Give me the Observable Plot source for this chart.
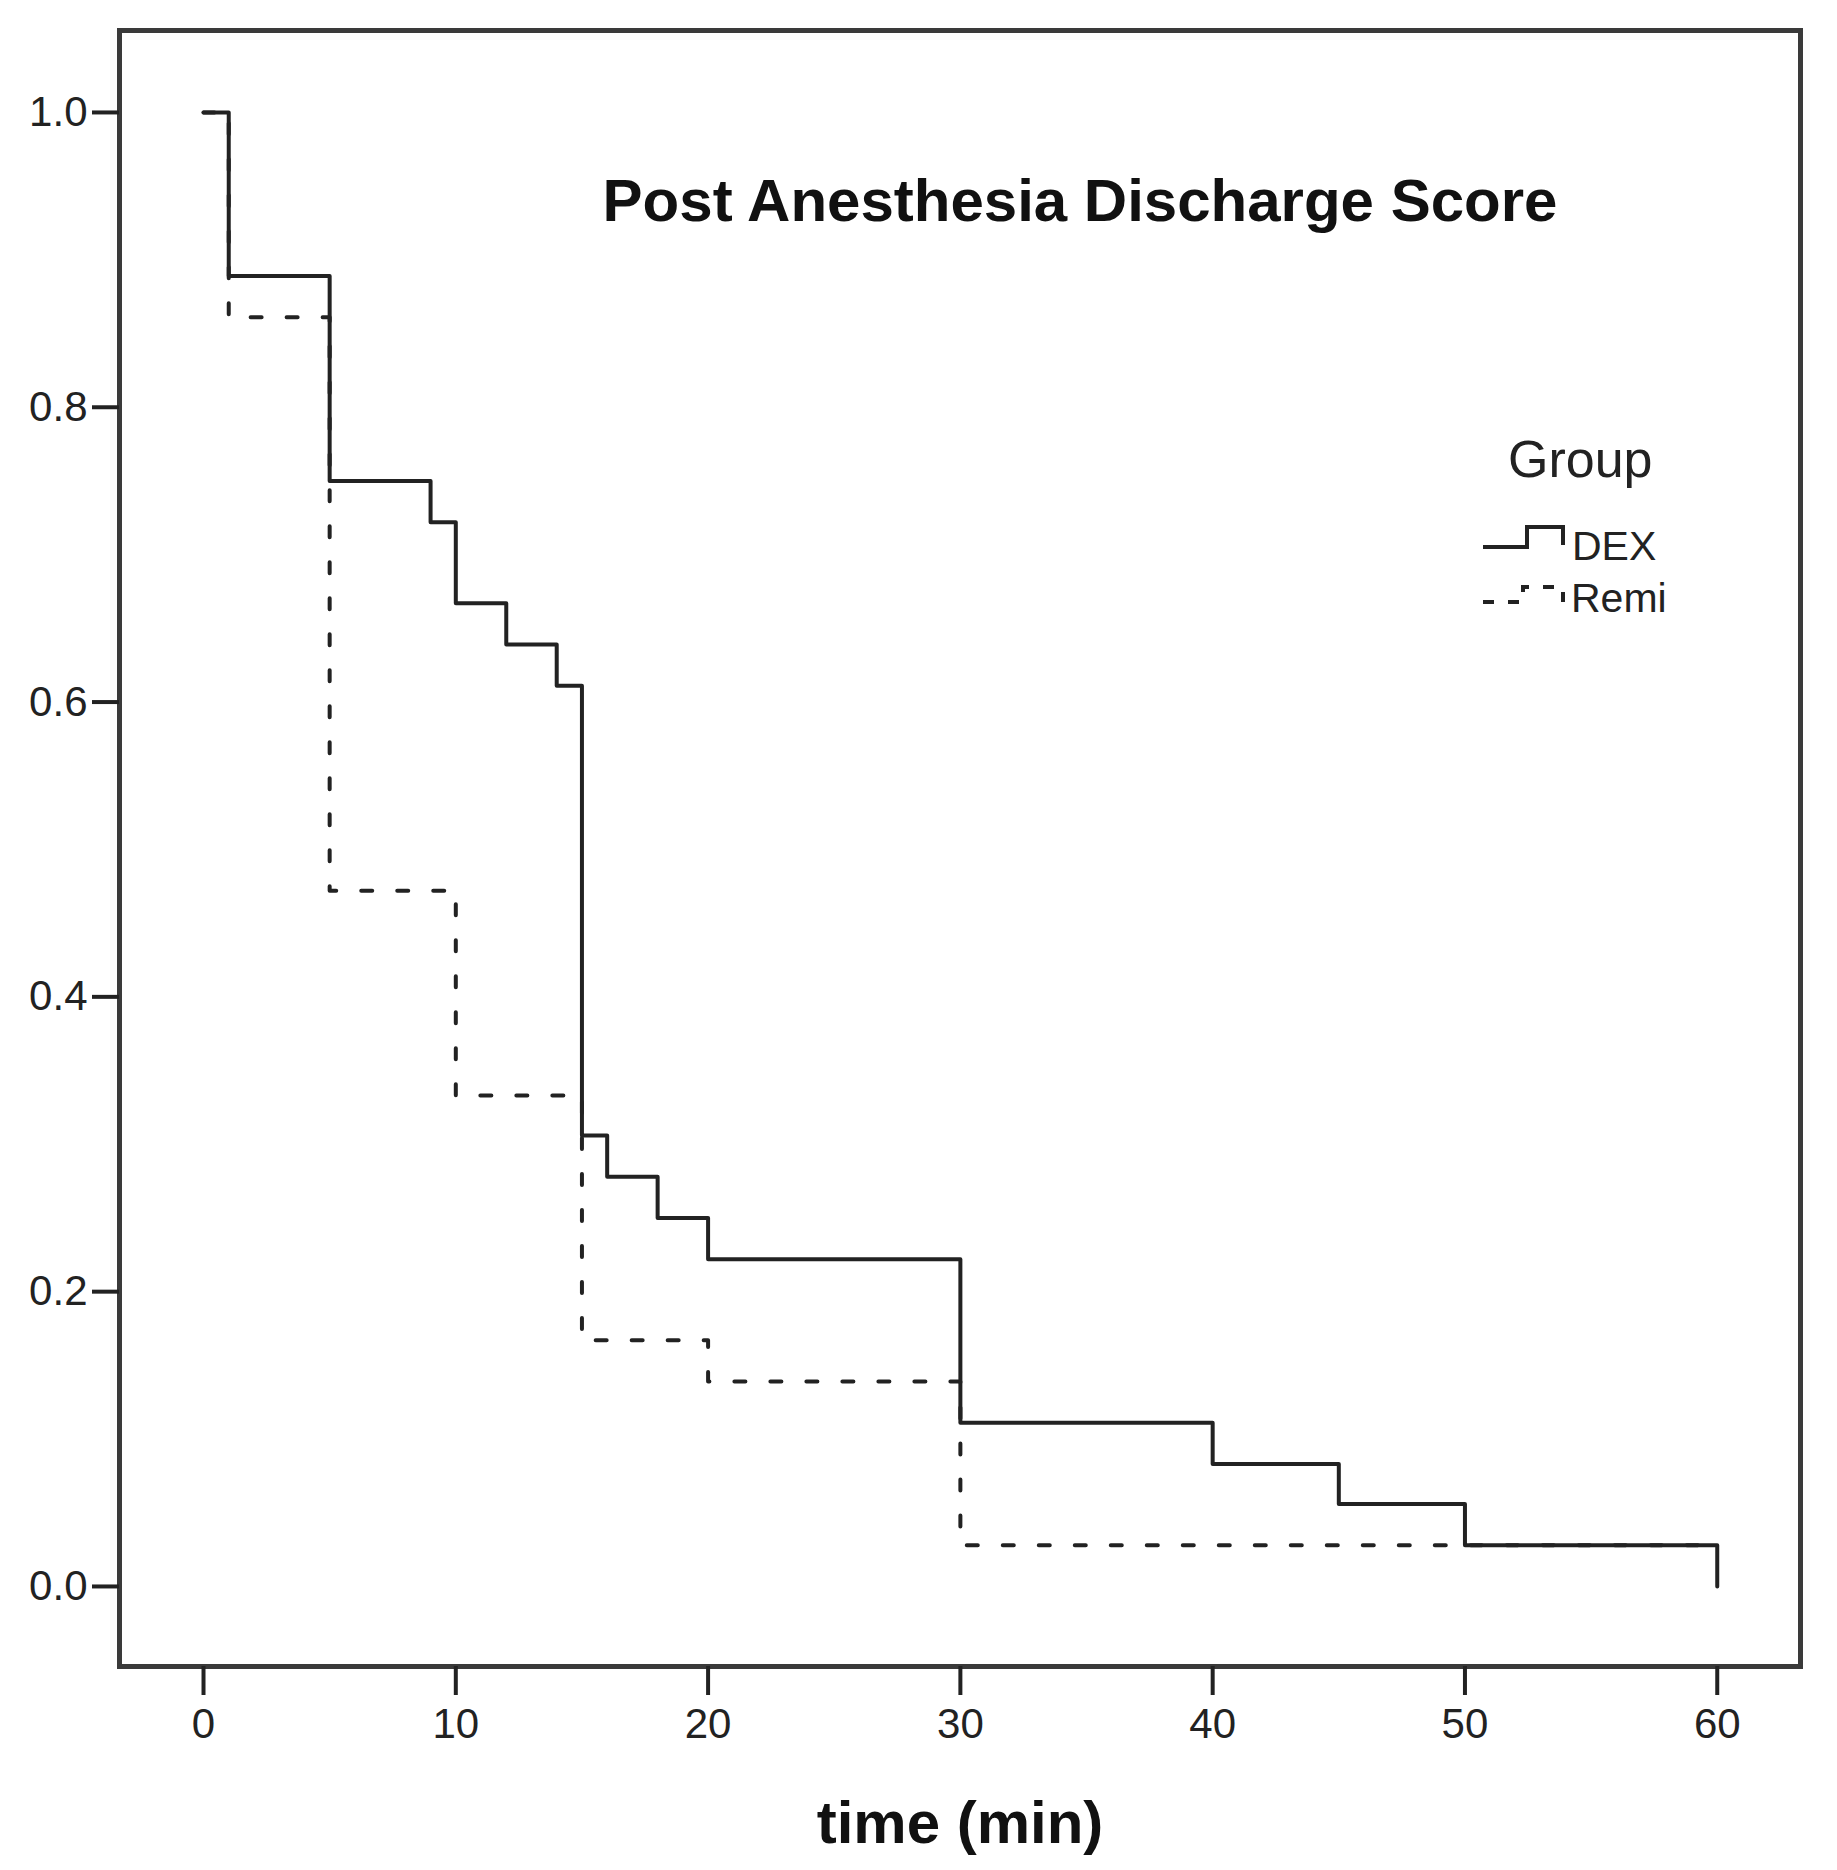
<!DOCTYPE html>
<html>
<head>
<meta charset="utf-8">
<script src="https://cdn.jsdelivr.net/npm/d3@7"></script>
<script src="https://cdn.jsdelivr.net/npm/@observablehq/plot@0.6"></script>
<style>
  html, body { margin: 0; padding: 0; background: #fff; }
  #chart { width: 1837px; height: 1870px; }
</style>
</head>
<body>
<div id="chart"></div>
<script>
// ---- data (Kaplan–Meier style step curves) ----
const dexTime = [0, 1, 5, 9, 10, 12, 14, 15, 16, 18, 20, 30, 40, 45, 50, 60];
const dexSurv = [1.0, 0.889, 0.750, 0.722, 0.667, 0.639, 0.611, 0.306, 0.278, 0.250, 0.222, 0.111, 0.083, 0.056, 0.028, 0.0];
const remiTime = [0, 1, 5, 10, 15, 20, 30, 60];
const remiSurv = [1.0, 0.861, 0.472, 0.333, 0.167, 0.139, 0.028, 0.028];
const xTicks = [0, 10, 20, 30, 40, 50, 60];
const yTicks = [0.0, 0.2, 0.4, 0.6, 0.8, 1.0];
const groups = ["DEX", "Remi"];
const titleText = "Post Anesthesia Discharge Score";
const xLabel = "time (min)";
const legendTitle = "Group";

const dex = dexTime.map((t, i) => ({time: t, surv: dexSurv[i], group: groups[0]}));
const remi = remiTime.map((t, i) => ({time: t, surv: remiSurv[i], group: groups[1]}));

const FONT = "'Liberation Sans', Arial, Helvetica, sans-serif";
const INK = "#222";

const chart = Plot.plot({
  width: 1837,
  height: 1870,
  marginLeft: 119,
  marginRight: 37,
  marginTop: 30,
  marginBottom: 204,
  style: {fontFamily: FONT, background: "#fff", color: INK, overflow: "visible"},
  x: {domain: [-3.33, 63.3], label: null},
  y: {domain: [-0.0543, 1.0556], label: null},
  marks: [
    Plot.lineY(remi, {x: "time", y: "surv", curve: "step-after", stroke: INK, strokeWidth: 4, strokeDasharray: "11,25"}),
    Plot.lineY(dex, {x: "time", y: "surv", curve: "step-after", stroke: INK, strokeWidth: 4}),
    Plot.frame({stroke: "#3a3a3a", strokeWidth: 5}),
    Plot.axisX({ticks: xTicks, tickSize: 29, tickPadding: 13, tickFormat: d => String(d), fontSize: 42, stroke: INK, strokeWidth: 4, label: null}),
    Plot.axisY({ticks: yTicks, tickSize: 27, tickPadding: 5, tickFormat: d3.format(".1f"), fontSize: 42, stroke: INK, strokeWidth: 4, label: null}),
    Plot.text([titleText], {frameAnchor: "top", dx: 120, dy: 190, lineAnchor: "bottom", text: d => d, fontSize: 60, fontWeight: "bold", fill: "#111"}),
    Plot.text([xLabel], {frameAnchor: "bottom", dy: 176, lineAnchor: "bottom", text: d => d, fontSize: 60, fontWeight: "bold", fill: "#111"})
  ]
});

// ---- legend inside the frame (top-right) ----
const svg = d3.select(chart);
const lg = svg.append("g").attr("font-family", FONT).attr("fill", INK).attr("text-anchor", "start");
lg.append("text").attr("x", 1508).attr("y", 477).attr("font-size", 52).text(legendTitle);
lg.append("path").attr("d", "M1483,547H1527V527H1563V545").attr("fill", "none").attr("stroke", INK).attr("stroke-width", 4);
lg.append("text").attr("x", 1572).attr("y", 560).attr("font-size", 41).text(groups[0]);
lg.append("path").attr("d", "M1483,602H1523V587H1563V602").attr("fill", "none").attr("stroke", INK).attr("stroke-width", 4).attr("stroke-dasharray", "11,14");
lg.append("text").attr("x", 1571).attr("y", 612).attr("font-size", 41).text(groups[1]);

document.getElementById("chart").appendChild(chart);
</script>
</body>
</html>
